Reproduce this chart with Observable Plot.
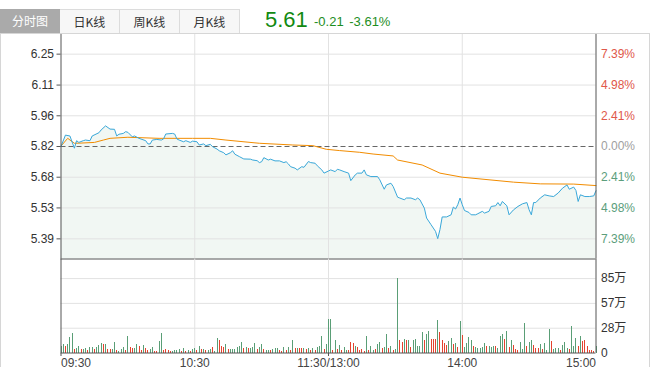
<!DOCTYPE html>
<html><head><meta charset="utf-8">
<script src="https://cdn.jsdelivr.net/npm/d3@7"></script>
<script src="https://cdn.jsdelivr.net/npm/@observablehq/plot@0.6"></script>
<style>
body{margin:0;background:#fff;}
#root{position:relative;width:654px;height:380px;overflow:hidden;font-family:"Liberation Sans","Noto Sans CJK SC",sans-serif;}
.tab{position:absolute;top:9px;height:24px;width:60px;line-height:23px;text-align:center;font-size:12px;color:#333;background:#f7f7f7;border:1px solid #dcdcdc;border-bottom:none;border-left:none;box-sizing:border-box;font-family:"Noto Sans CJK SC",sans-serif;}
.tab.on{background:#aaaaaa;color:#fff;border:none;}
#box{position:absolute;left:0;top:33px;width:650px;height:334px;border:1px solid #d6d6d6;border-bottom:none;box-sizing:border-box;pointer-events:none;}
.svgwrap{position:absolute;left:0;}
#last{position:absolute;left:265px;top:7px;font-size:22px;line-height:26px;color:#128a12;}
#chg{position:absolute;left:314px;top:12px;font-size:13px;line-height:20px;color:#1e8e1e;word-spacing:2px;}
</style></head>
<body><div id="root">
<div class="tab on" style="left:0">分时图</div>
<div class="tab" style="left:60px">日K线</div>
<div class="tab" style="left:120px">周K线</div>
<div class="tab" style="left:180px">月K线</div>
<div id="last"></div>
<div id="chg"></div>
<div id="price" class="svgwrap" style="top:27px"></div>
<div id="vol" class="svgwrap" style="top:258px"></div>
<div id="box"></div>
</div>
<script>
// ---- header values ----
const lastPrice = "5.61";
const change = "-0.21";
const changePct = "-3.61%";
const prevClose = 5.82;

// ---- axis ticks / labels ----
const priceTicks = [5.390, 5.534, 5.677, 5.82, 5.963, 6.106, 6.25];
const priceTickLabels = ["5.39", "5.53", "5.68", "5.82", "5.96", "6.11", "6.25"];
const pctTickLabels = ["7.39%", "4.98%", "2.41%", "0.00%", "2.41%", "4.98%", "7.39%"];
const pctTickSide = ["dn", "dn", "dn", "flat", "up", "up", "up"];
const volTicks = [0, 28.33, 56.67, 85];
const volTickLabels = ["0", "28万", "57万", "85万"];
const timeTicks = [0, 60, 120, 180, 240];
const timeTickLabels = ["09:30", "10:30", "11:30/13:00", "14:00", "15:00"];
const timeAnchors = ["start", "middle", "middle", "middle", "end"];

// ---- price series: [minute since 09:30 (lunch removed), price] ----
const priceSeries = [[0,5.820],[2,5.873],[4,5.869],[6,5.812],[7,5.847],[8,5.839],[10,5.847],[11,5.850],[13,5.847],[14,5.869],[17,5.884],[18,5.897],[20,5.916],[22,5.901],[24,5.900],[25,5.869],[26,5.877],[28,5.881],[29,5.889],[30,5.886],[32,5.865],[33,5.869],[35,5.858],[38,5.847],[39,5.832],[40,5.832],[41,5.850],[43,5.853],[45,5.850],[46,5.855],[47,5.878],[50,5.881],[51,5.878],[52,5.855],[53,5.850],[55,5.842],[56,5.847],[58,5.839],[59,5.845],[61,5.842],[62,5.827],[64,5.832],[65,5.824],[67,5.830],[68,5.819],[70,5.808],[71,5.800],[73,5.791],[74,5.781],[76,5.791],[77,5.800],[78,5.784],[80,5.773],[82,5.762],[85,5.761],[86,5.757],[88,5.754],[89,5.745],[90,5.749],[91,5.768],[93,5.757],[94,5.761],[96,5.753],[98,5.753],[100,5.745],[101,5.749],[102,5.739],[103,5.726],[105,5.719],[106,5.711],[108,5.726],[109,5.723],[111,5.750],[112,5.745],[114,5.742],[115,5.730],[117,5.711],[118,5.696],[120,5.706],[121,5.711],[123,5.703],[124,5.714],[125,5.711],[127,5.703],[129,5.696],[130,5.661],[132,5.688],[133,5.696],[135,5.696],[136,5.711],[137,5.688],[139,5.680],[142,5.680],[143,5.665],[145,5.621],[146,5.641],[148,5.649],[149,5.634],[151,5.584],[152,5.580],[154,5.572],[155,5.580],[157,5.580],[159,5.572],[160,5.580],[161,5.572],[163,5.533],[164,5.487],[166,5.456],[168,5.425],[169,5.391],[170,5.433],[171,5.492],[173,5.492],[175,5.502],[176,5.538],[177,5.529],[178,5.549],[179,5.580],[180,5.549],[181,5.522],[183,5.513],[184,5.502],[186,5.502],[187,5.507],[189,5.518],[190,5.510],[192,5.518],[193,5.541],[195,5.544],[196,5.559],[197,5.544],[198,5.564],[200,5.544],[201,5.502],[203,5.525],[205,5.541],[207,5.553],[209,5.559],[210,5.525],[211,5.502],[212,5.559],[213,5.559],[215,5.580],[217,5.595],[219,5.590],[221,5.587],[223,5.603],[225,5.626],[227,5.641],[228,5.621],[230,5.631],[231,5.615],[232,5.564],[233,5.595],[235,5.587],[237,5.587],[239,5.590],[240,5.614]];

// ---- average price series ----
const avgSeries = [[0,5.822],[3,5.858],[6,5.835],[9,5.836],[15,5.839],[19,5.850],[22,5.858],[30,5.863],[44,5.858],[59,5.858],[67,5.858],[74,5.850],[89,5.835],[104,5.827],[113,5.824],[119,5.807],[125,5.801],[134,5.793],[140,5.785],[149,5.776],[151,5.757],[162,5.734],[170,5.696],[180,5.677],[192,5.665],[203,5.654],[215,5.646],[230,5.645],[240,5.638]];

// ---- volume per minute (万手), minute 0..240 ----
const volumes = [7.7,9.6,6.9,9.6,17.7,22.3,4.2,5.0,7.7,4.2, 4.2,5.0,3.1,6.1,6.1,4.2,6.1,8.8,10.8,9.6, 9.6,3.8,3.8,4.2,12.3,3.1,1.2,3.8,6.1,3.1, 19.2,6.1,5.0,5.0,9.6,6.9,2.3,8.4,5.0,3.1, 3.8,6.1,1.9,1.9,13.4,22.3,3.1,3.8,3.1,1.9, 1.2,2.3,3.1,3.8,1.2,4.6,1.9,2.3,1.9,4.2, 4.6,2.3,6.9,3.8,3.8,2.3,3.1,4.2,6.1,1.9, 16.5,13.8,6.9,6.1,9.6,3.8,3.8,3.8,3.8,5.8, 6.9,12.3,5.4,6.1,5.4,5.4,6.1,10.8,3.8,6.1, 9.6,3.8,3.1,3.1,3.1,3.8,5.4,5.4,3.1,1.9, 6.1,3.1,6.1,3.1,14.6,5.4,5.4,5.4,4.6,5.4, 3.8,4.6,3.1,5.4,3.1,6.1,7.7,19.2,4.2,9.6, 38.8,
 38.8,3.1,14.6,3.8,8.8,3.1,6.1,3.1,3.1,12.3, 10.8,6.9,6.1,3.1,3.8,1.9,19.2,3.1,7.7,3.1, 3.8,9.6,12.3,5.4,6.1,21.5,5.4,6.9,3.1,3.8, 85.6,13.8,11.5,15.4,13.8,14.6,6.1,13.8,15.4,7.7, 7.7,23.0,14.6,21.5,24.2,15.4,15.4,15.4,36.9,23.8, 14.6,10.8,8.8,12.7,16.5,9.6,10.8,6.1,35.7,20.0, 6.1,10.8,17.7,13.8,7.7,6.1,4.6,5.4,6.1,10.8, 6.9,7.7,6.1,6.9,6.9,4.6,19.2,21.5,15.4,24.2, 6.1,13.8,8.8,3.8,2.3,12.3,3.8,33.8,6.9,12.3, 13.8,8.8,4.6,4.6,9.6,3.8,10.8,3.1,26.9,13.4, 3.8,5.0,4.6,2.3,8.8,12.3,4.6,3.8,30.7,6.9, 16.5,6.9,19.2,13.4,13.8,7.7,3.1,2.3,1.2,7.7];
// r = up minute, g = down minute
const volumeDir = ("ggrgggrggr" + "ggrggrgggr" + "grrggrgggr" + "grrggrrgrr" + "ggrrggrrrr" + "ggggrgrgrg" +
  "grgrgrggrg" + "grrrgrgggg" + "ggrgrgggrg" + "grggrgggrr" + "grgrgrgrrg" + "rgrgrgggrg" + "g" +
  "grgrgrggrr" + "rgrrrrgrgg" + "rggrggrgrg" + "grrgrgrggg" + "ggrggrrrgr" + "rrrggrgrgr" +
  "ggggrggggg" + "rgggrgggrg" + "rgrrrgggrg" + "grrrgrgggr" + "gggrgggrgg" + "grgrrrrrrg").split("");

// ---- styling ----
const C = {
  grid: "#e2e2e2", axis: "#555", text: "#333",
  price: "#3aa8da", avg: "#f28c00", fill: "#f1f7f3",
  up: "#e4432f", down: "#5a9e76",
  pctUp: "#e0584a", pctDn: "#5c9e7c", pctFlat: "#a0a0a0"
};
const font = {fontFamily: '"Liberation Sans","Noto Sans CJK SC",sans-serif', fontSize: "12px", background: "transparent", overflow: "visible"};

document.getElementById("last").textContent = lastPrice;
document.getElementById("chg").textContent = change + " " + changePct;

const priceData = priceSeries.map(([t, p]) => ({t, p}));
const avgData = avgSeries.map(([t, p]) => ({t, p}));
const volData = volumes.map((v, t) => ({t, v, d: volumeDir[t]}));
const yLo = 5.2962, yHi = 6.3438;
const xDom = [0, 240];

const pricePlot = Plot.plot({
  width: 654, height: 232,
  marginLeft: 60.5, marginRight: 58.5, marginTop: 6.5, marginBottom: 0.5,
  style: font,
  x: {domain: xDom, axis: null},
  y: {domain: [yLo, yHi], axis: null},
  marks: [
    Plot.areaY(priceData, {x: "t", y1: () => yLo, y2: "p", fill: C.fill}),
    Plot.gridY(priceTicks.filter(d => d !== prevClose), {stroke: C.grid, strokeOpacity: 1}),
    Plot.gridX([60, 120, 180], {stroke: C.grid, strokeOpacity: 1}),
    Plot.ruleY([prevClose], {stroke: "#666", strokeDasharray: "5,3"}),
    Plot.line(avgData, {x: "t", y: "p", stroke: C.avg, strokeWidth: 1}),
    Plot.line(priceData, {x: "t", y: "p", stroke: C.price, strokeWidth: 1}),
    Plot.ruleX(xDom, {stroke: C.axis}),
    Plot.ruleY([yLo], {stroke: C.axis}),
    Plot.axisY(priceTicks, {anchor: "left", label: null, tickSize: 4, tickPadding: 3, stroke: C.axis, fill: C.text,
      tickFormat: d => priceTickLabels[priceTicks.indexOf(d)]}),
    Plot.text(priceTicks, {x: () => 240, y: d => d, dx: 5, textAnchor: "start",
      text: (d, i) => pctTickLabels[i],
      fill: (d, i) => pctTickSide[i] === "up" ? C.pctUp : pctTickSide[i] === "dn" ? C.pctDn : C.pctFlat})
  ]
});
document.getElementById("price").appendChild(pricePlot);

const volPlot = Plot.plot({
  width: 654, height: 122,
  marginLeft: 60.5, marginRight: 58.5, marginTop: 0.5, marginBottom: 27.5,
  style: font,
  x: {domain: xDom, axis: null},
  y: {domain: [0, 107.4], axis: null},
  marks: [
    Plot.gridY(volTicks.slice(1), {stroke: C.grid, strokeOpacity: 1}),
    Plot.gridX([60, 120, 180], {stroke: C.grid, strokeOpacity: 1}),
    Plot.ruleX(volData, {x: "t", y1: 0, y2: "v", stroke: d => d.d === "r" ? C.up : C.down, strokeWidth: 1, shapeRendering: "crispEdges"}),
    Plot.ruleX(xDom, {stroke: C.axis}),
    Plot.ruleY([0], {stroke: C.axis}),
    Plot.ruleX([0, 120], {y1: 0, y2: -4, stroke: C.axis}),
    Plot.text(volTicks, {x: () => 240, y: d => d, dx: 5, textAnchor: "start", fill: C.text,
      text: (d, i) => volTickLabels[i]}),
    ...["start", "middle", "end"].map(a => Plot.text(
      timeTicks.map((t, i) => ({t, s: timeTickLabels[i], a: timeAnchors[i]})).filter(d => d.a === a),
      {x: "t", y: () => 0, dy: 10, text: "s", textAnchor: a, fill: "#444"}))
  ]
});
document.getElementById("vol").appendChild(volPlot);
</script>
</body></html>
